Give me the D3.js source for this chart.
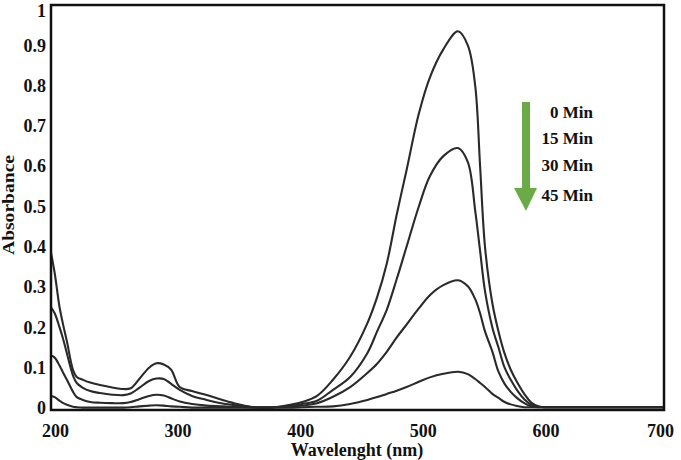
<!DOCTYPE html>
<html>
<head>
<meta charset="utf-8">
<script src="https://cdn.jsdelivr.net/npm/d3@7"></script>
<style>
  body { margin: 0; background: #fff; }
  svg { display: block; }
  text { font-family: "Liberation Serif", "Times New Roman", serif; font-weight: bold; fill: #111; }
</style>
</head>
<body>
<svg id="chart" width="681" height="460"></svg>
<script>
// wavelength grid (nm), shared by all four spectra
const wavelength = [200, 203, 207, 210, 213, 218, 221, 226, 232, 240, 250, 259, 265, 272, 280, 286, 292, 298, 305, 315, 327, 340, 352, 365, 380, 395, 405, 417, 430, 444, 458, 466, 474, 482, 490, 500, 509, 520, 532, 540, 546, 550, 554, 560, 565, 570, 575, 580, 586, 592, 598, 605, 620, 650, 700];

const abs0 = [0.385, 0.335, 0.25, 0.205, 0.165, 0.094, 0.077, 0.07, 0.063, 0.057, 0.051, 0.047, 0.049, 0.072, 0.1, 0.111, 0.108, 0.095, 0.052, 0.042, 0.032, 0.02, 0.01, 0.002, 0.001, 0.008, 0.015, 0.03, 0.07, 0.127, 0.21, 0.275, 0.36, 0.48, 0.59, 0.73, 0.82, 0.89, 0.935, 0.9, 0.8, 0.6, 0.4, 0.26, 0.19, 0.135, 0.095, 0.065, 0.035, 0.013, 0.004, 0.002, 0.002, 0.002, 0.002];
const abs15 = [0.25, 0.235, 0.2, 0.17, 0.135, 0.08, 0.062, 0.05, 0.042, 0.037, 0.033, 0.032, 0.036, 0.05, 0.067, 0.073, 0.072, 0.06, 0.045, 0.03, 0.02, 0.011, 0.006, 0.002, 0.002, 0.005, 0.01, 0.018, 0.045, 0.077, 0.136, 0.19, 0.245, 0.32, 0.4, 0.5, 0.575, 0.625, 0.645, 0.61, 0.49, 0.39, 0.29, 0.2, 0.15, 0.1, 0.07, 0.045, 0.022, 0.008, 0.003, 0.002, 0.002, 0.002, 0.002];
const abs30 = [0.13, 0.125, 0.105, 0.087, 0.07, 0.04, 0.027, 0.02, 0.015, 0.013, 0.012, 0.012, 0.015, 0.022, 0.03, 0.033, 0.031, 0.024, 0.016, 0.01, 0.006, 0.004, 0.003, 0.002, 0.002, 0.003, 0.006, 0.012, 0.028, 0.052, 0.087, 0.11, 0.14, 0.175, 0.207, 0.247, 0.28, 0.305, 0.317, 0.302, 0.27, 0.235, 0.19, 0.14, 0.09, 0.06, 0.04, 0.025, 0.012, 0.004, 0.002, 0.002, 0.002, 0.002, 0.002];
const abs45 = [0.03, 0.027, 0.018, 0.012, 0.008, 0.003, 0.002, 0.001, 0.001, 0.001, 0.001, 0.001, 0.002, 0.004, 0.006, 0.007, 0.006, 0.004, 0.003, 0.001, 0.001, 0.001, 0.001, 0.001, 0.001, 0.001, 0.002, 0.003, 0.004, 0.01, 0.02, 0.027, 0.035, 0.043, 0.052, 0.065, 0.076, 0.085, 0.09, 0.084, 0.072, 0.062, 0.052, 0.035, 0.025, 0.015, 0.009, 0.005, 0.002, 0.002, 0.002, 0.002, 0.002, 0.002, 0.002];

const seriesLabels = ["0 Min", "15 Min", "30 Min", "45 Min"];
const xTicks = [200, 300, 400, 500, 600, 700];
const yTicks = [0, 0.1, 0.2, 0.3, 0.4, 0.5, 0.6, 0.7, 0.8, 0.9, 1];

const svg = d3.select("#chart");
const margin = { top: 5, right: 17, bottom: 50, left: 51 };
const W = 681, H = 460;

const x = d3.scaleLinear().domain([200, 700]).range([margin.left, W - margin.right]);
const y = d3.scaleLinear().domain([0, 1]).range([408, margin.top]);

// spectra
const line = d3.line()
  .curve(d3.curveCatmullRom.alpha(0.5))
  .x((d) => x(d[0]))
  .y((d) => y(Math.max(0, d[1])));

[abs0, abs15, abs30, abs45].forEach((vals) => {
  svg.append("path")
    .datum(wavelength.map((w, i) => [w, vals[i]]))
    .attr("fill", "none")
    .attr("stroke", "#2a2a2a")
    .attr("stroke-width", 2.1)
    .attr("d", line);
});

// frame
svg.append("rect")
  .attr("x", x(200))
  .attr("y", y(1))
  .attr("width", x(700) - x(200))
  .attr("height", 410 - y(1))
  .attr("fill", "none")
  .attr("stroke", "#111")
  .attr("stroke-width", 2.5);

// x axis
const xAxis = svg.append("g")
  .attr("transform", "translate(0,410)")
  .call(d3.axisBottom(x).tickValues(xTicks).tickSize(0).tickPadding(0));
xAxis.select(".domain").remove();
xAxis.selectAll("text")
  .attr("y", 27)
  .attr("dy", 0)
  .attr("dx", (d) => (d === 700 ? -4 : 4))
  .style("font-size", "18px")
  .style("font-family", "Liberation Serif, serif")
  .style("font-weight", "bold")
  .attr("fill", "#111");

// y axis
const yAxis = svg.append("g")
  .attr("transform", `translate(${margin.left},0)`)
  .call(d3.axisLeft(y).tickValues(yTicks).tickSize(0).tickPadding(5).tickFormat((d) => String(d)));
yAxis.select(".domain").remove();
yAxis.selectAll("text")
  .attr("dy", (d) => (d === 1 ? "0.62em" : "0.32em"))
  .style("font-size", "18px")
  .style("font-family", "Liberation Serif, serif")
  .style("font-weight", "bold")
  .attr("fill", "#111");

// axis titles
svg.append("text")
  .attr("x", 357)
  .attr("y", 456)
  .attr("text-anchor", "middle")
  .style("font-size", "18px")
  .text("Wavelenght (nm)");

svg.append("text")
  .attr("transform", "translate(14,205) rotate(-90)")
  .attr("text-anchor", "middle")
  .attr("textLength", 100)
  .attr("lengthAdjust", "spacingAndGlyphs")
  .style("font-size", "16px")
  .text("Absorbance");

// legend: green arrow with time labels
const legend = svg.append("g");
legend.append("path")
  .attr("d", "M522,102 L530,102 L530,188 L537,188 L526,211 L514,188 L522,188 Z")
  .attr("fill", "#6aab47");

legend.selectAll("text.lab")
  .data(seriesLabels)
  .join("text")
  .attr("class", "lab")
  .attr("x", 593)
  .attr("y", (d, i) => [118, 144, 171, 201][i])
  .attr("text-anchor", "end")
  .style("font-size", "17px")
  .text((d) => d);
</script>
</body>
</html>
